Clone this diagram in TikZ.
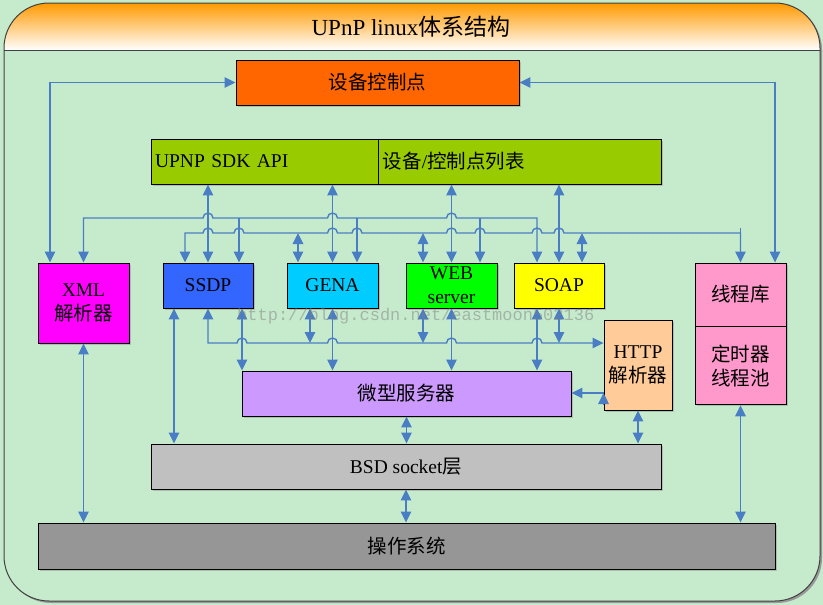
\documentclass[tikz,border=0pt]{standalone}
\usepackage{fontspec}
\setmainfont{Liberation Serif}
\newfontfamily\cjk{Noto Sans CJK SC}
\newfontfamily\markfont{Liberation Mono}
\usetikzlibrary{positioning}
\usetikzlibrary{arrows.meta}
\usetikzlibrary{shadows}

\definecolor{bggreen}{HTML}{C6EBCC}
\definecolor{titleorange}{HTML}{FF9900}
\definecolor{wireblue}{HTML}{4A7EC4}
\definecolor{cpred}{HTML}{FF6600}
\definecolor{apigreen}{HTML}{99CC00}
\definecolor{xmlpink}{HTML}{FF00FF}
\definecolor{ssdpblue}{HTML}{3366FF}
\definecolor{genacyan}{HTML}{00CCFF}
\definecolor{webgreen}{HTML}{00FF00}
\definecolor{soapyellow}{HTML}{FFFF00}
\definecolor{thrpink}{HTML}{FF99CC}
\definecolor{httporange}{HTML}{FFCC99}
\definecolor{micropurple}{HTML}{CC99FF}
\definecolor{bsdgray}{HTML}{C0C0C0}
\definecolor{osgray}{HTML}{969696}

% small bump where a horizontal wire jumps over a vertical one
\newcommand{\linehop}[2]{-- ({#1-5},#2) arc[start angle=180,end angle=0,radius=5pt]}

\begin{document}
\begin{tikzpicture}[x=1pt,y=1pt]
\tikzset{box/.style={rectangle, draw=black, line width=0.9pt, minimum height=45pt, inner sep=2pt, align=center, font=\fontsize{19.5}{24}\selectfont, drop shadow={shadow xshift=1.5pt, shadow yshift=-1.5pt, opacity=0.4}}}
\tikzset{wire/.style={draw=wireblue, line width=1.4pt}}
\tikzset{wireend/.style={wire, -{Triangle[length=11pt,width=10.5pt]}}}
\tikzset{wireboth/.style={wire, {Triangle[length=11pt,width=10.5pt]}-{Triangle[length=11pt,width=10.5pt]}}}

% frame and title band
\fill[bggreen] (0,0) rectangle (823,-605);
\useasboundingbox (0,0) rectangle (823,-605);
\fill[black!40] (6,-5) [rounded corners=45pt] rectangle (822,-603);
\fill[bggreen, rounded corners=45pt] (4,-3) rectangle (820,-601);
\begin{scope}
\clip[rounded corners=45pt] (4,-3) rectangle (820,-601);
\shade[top color=titleorange, bottom color=white] (4,-3) rectangle (820,-50);
\end{scope}
\draw[black!75, line width=1pt, rounded corners=45pt] (4,-3) rectangle (820,-601);
\draw[black!75, line width=1pt] (4,-50) -- (820,-50);
\node[font=\fontsize{23}{26}\selectfont] (title) at (411,-27) {UPnP linux{\cjk 体系结构}};

% boxes
\node[box, fill=cpred, minimum width=283pt] (cp) at (377.5,-82.5) {{\cjk 设备控制点}};
\node[box, fill=apigreen, minimum width=227pt, text width=219pt, align=left] (api) at (264.5,-161.5) {UPNP SDK API};
\node[box, fill=apigreen, minimum width=283pt, text width=275pt, align=left, right=0pt of api] (list) {{\cjk 设备}/{\cjk 控制点列表}};
\node[box, fill=xmlpink, minimum width=91pt, minimum height=80pt] (xml) at (83.5,-303) {XML\\{\cjk 解析器}};
\node[box, fill=ssdpblue, minimum width=90pt] (ssdp) at (208,-285.5) {SSDP};
\node[box, fill=genacyan, minimum width=91pt] (gena) at (332.5,-285.5) {GENA};
\node[box, fill=webgreen, minimum width=91pt, inner ysep=0pt] (web) at (451.5,-285.5) {WEB\\server};
\node[box, fill=soapyellow, minimum width=90pt] (soap) at (559,-285.5) {SOAP};
\node[box, fill=thrpink, minimum width=91pt, minimum height=63pt] (thr) at (740.5,-294.5) {{\cjk 线程库}};
\node[box, fill=thrpink, minimum width=91pt, minimum height=78pt, below=0pt of thr] (timer) {{\cjk 定时器}\\{\cjk 线程池}};
\node[box, fill=httporange, minimum width=68pt, minimum height=90pt] (http) at (638,-365) {HTTP\\{\cjk 解析器}};
\node[box, fill=micropurple, minimum width=329pt] (micro) at (406.5,-393.5) {{\cjk 微型服务器}};
\node[box, fill=bsdgray, minimum width=510pt] (bsd) at (406,-466.5) {BSD socket{\cjk 层}};
\node[box, fill=osgray, minimum width=737pt, minimum height=46pt] (os) at (406.5,-546) {{\cjk 操作系统}};

% control point links
\draw[wireboth] (cp.west) -| ([xshift=-33.5pt]xml.north);
\draw[wireboth] (cp.east) -| ([xshift=34.5pt]thr.north);

% API links
\foreach \n in {ssdp,gena} \draw[wireboth] (api.south -| \n.north) -- (\n.north);
\foreach \n in {web,soap} \draw[wireboth] (list.south -| \n.north) -- (\n.north);

% upper bus
\draw[wireboth] (xml.north) -- (xml.north |- 0,-218) \linehop{208}{-218} \linehop{332.5}{-218} \linehop{451.5}{-218} -- (537,-218) -- ([xshift=-22pt]soap.north);
\foreach \n/\dx in {ssdp/31,gena/24.5,web/28.5} \draw[wireend] ([xshift=\dx pt]\n.north |- 0,-218) -- ([xshift=\dx pt]\n.north);

% second bus
\draw[wireboth] ([xshift=-23pt]ssdp.north) -- ([xshift=-23pt]ssdp.north |- 0,-233) \linehop{208}{-233} \linehop{239}{-233} \linehop{332.5}{-233} \linehop{357}{-233} \linehop{451.5}{-233} \linehop{480}{-233} \linehop{537}{-233} \linehop{559}{-233} -- (thr.north |- 0,-233) -- (thr.north);
\draw[wire] (thr.north |- 0,-228) -- (thr.north |- 0,-233);
\foreach \n/\dx in {gena/-34.5,web/-28.5,soap/23} \draw[wireboth] ([xshift=\dx pt]\n.north |- 0,-233) -- ([xshift=\dx pt]\n.north);

% lower bus
\draw[wireboth] (ssdp.south) -- (ssdp.south |- 0,-343) \linehop{242}{-343} \linehop{332.5}{-343} \linehop{451.5}{-343} \linehop{537}{-343} -- (http.west |- 0,-343);
\foreach \n/\dx in {gena/-22.5,web/-28.5,soap/0} \draw[wireboth] ([xshift=\dx pt]\n.south) -- ([xshift=\dx pt]\n.south |- 0,-343);

% down to the micro server
\foreach \n/\dx in {ssdp/34,gena/0,web/0,soap/-22} \draw[wireboth] ([xshift=\dx pt]\n.south) -- ([xshift=\dx pt]\n.south |- micro.north);

% lower layers
\draw[wireboth] ([xshift=-34pt]ssdp.south) -- ([xshift=-34pt]ssdp.south |- bsd.north);
\draw[wireboth] (xml.south) -- (xml.south |- os.north);
\draw[wireboth] (micro.south) -- (micro.south |- bsd.north);
\draw[wireboth] (bsd.south) -- (bsd.south |- os.north);
\draw[wireboth] (http.south) -- (http.south |- bsd.north);
\draw[wireboth] (timer.south) -- (timer.south |- os.north);
\draw[wireend] (http.west |- 0,-393) -- (micro.east |- 0,-393);
\draw[wireend] (http.west |- 0,-404) -- (http.west |- 0,-393);

% watermark
\node[anchor=base west, inner sep=0pt, font=\markfont\fontsize{17}{17}\selectfont, text=gray, opacity=0.5] (mark) at (237,-320) {http://blog.csdn.net/eastmoon502136};
\end{tikzpicture}
\end{document}
